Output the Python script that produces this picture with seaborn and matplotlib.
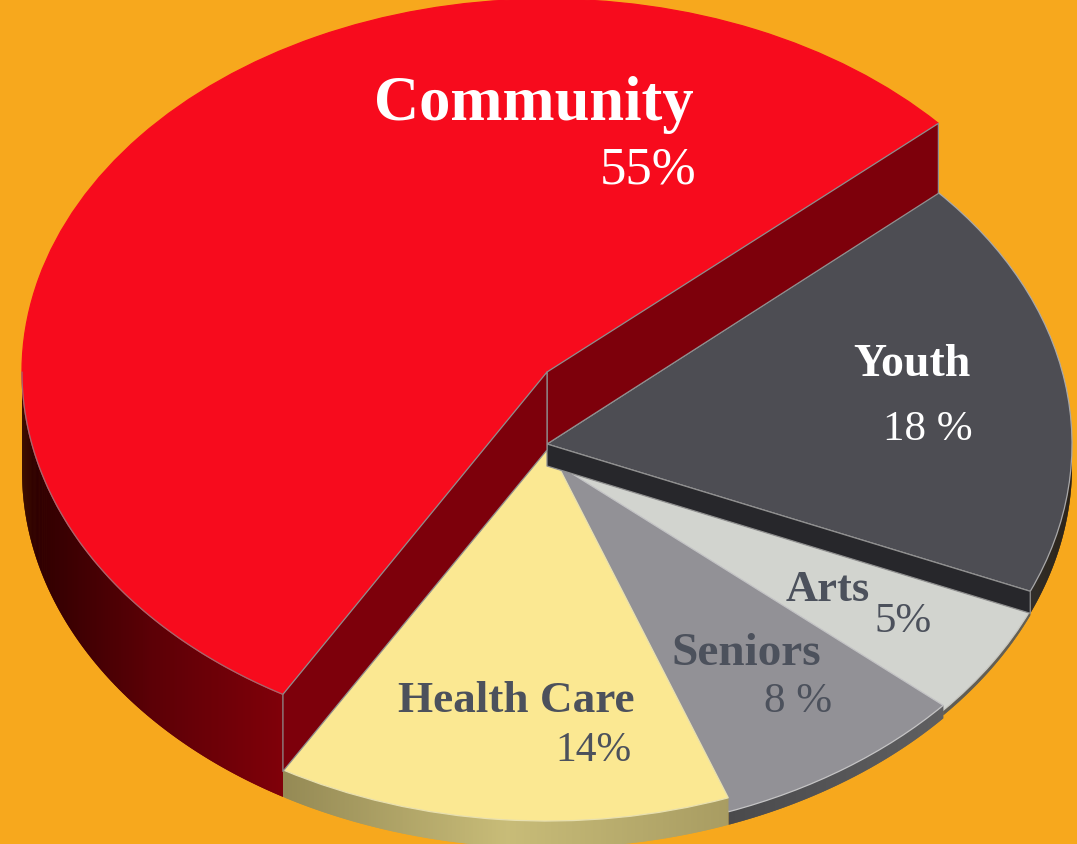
import numpy as np
import matplotlib
matplotlib.use("Agg")
import matplotlib.pyplot as plt
from matplotlib.colors import LinearSegmentedColormap
from matplotlib.transforms import Affine2D
import seaborn as sns

# ---- data ----
categories = ["Community", "Health Care", "Seniors", "Arts", "Youth"]
shares = [55, 14, 8, 5, 18]
share_labels = ["55%", "14%", "8 %", "5%", "18 %"]
start_angle = 41.8

# ---- style / layout (pixels of the 1077x845 canvas) ----
W, H = 1077, 845
CX, CY, RX, RY = 547, 445, 525, 377
lift = [-72, 0, 14, 19, 0]             # vertical shift of each slice's top face
ry_px = [373, 377, 377, 377, 377]      # vertical radius of each slice
floor = [27, 27, 27, 24, 22]           # rim floor, below the reference plane
top_cols = ["#f70b1d", "#fbe892", "#929196", "#d2d4cf", "#4d4d53"]
edge_cols = ["#f70b1d", "#e8e0b0", "#c4c4c6", "#c8c8c4", "#a8a8aa"]
wall_cols = [["#2a0000", "#5c0006", "#800009"],
             ["#958a55", "#c8bc78", "#a89c62"],
             ["#4a4a4c", "#5f5f61"],
             ["#5c5c58", "#5c5c58"],
             ["#29292c", "#161618"]]
text_dark = "#4c515c"
label_pos = [(694, 120, "white", 45), (635, 712, text_dark, 32.6), (821, 665, text_dark, 34),
             (870, 601, text_dark, 32), (971, 376, "white", 33)]
value_pos = [(696, 184, "white", 38), (632, 761, text_dark, 30), (832, 712, text_dark, 31),
             (932, 632, text_dark, 31), (973, 440, "white", 31)]
order_z = {"Arts": 2, "Seniors": 3, "Health Care": 4, "Youth": 5, "Community": 6}

sns.set_theme(style="white")
plt.rcParams["font.family"] = ["Liberation Serif", "DejaVu Serif"]
bg = "#f7a81d"

fig = plt.figure(figsize=(W / 100, H / 100), dpi=100, facecolor=bg)
ax = fig.add_axes([0, 0, 1, 1], facecolor=bg)

wedges, _ = ax.pie(shares, startangle=start_angle, counterclock=True, colors=top_cols,
                   wedgeprops=dict(linewidth=0.9))
ax.set_aspect("auto")
ax.set_xlim((0 - CX) / RX, (W - CX) / RX)
ax.set_ylim((CY - H) / RY, (CY - 0) / RY)
ax.set_axis_off()


def ux(px):
    return (px - CX) / RX


def uy(py):
    return (CY - py) / RY


def wall(t1, t2, dy, k, flr, cols, z):
    """Outer rim of a slice, one overlapping strip per small angle step."""
    t1, t2 = max(t1, 180), min(t2, 360)
    if t2 <= t1:
        return
    cmap = LinearSegmentedColormap.from_list("w", cols)
    th = np.radians(np.linspace(t1, t2, 241))
    x0, x1 = np.cos(th[0]), np.cos(th[-1])
    for i in range(len(th) - 1):
        a = th[i:i + 3]
        x = np.cos(a)
        ax.fill(np.r_[x, x[::-1]],
                np.r_[k * np.sin(a) - dy / RY, np.sin(a[::-1]) - flr / RY],
                color=cmap((x[0] - x0) / (x1 - x0)), lw=0, zorder=z)


def cut_face(theta, dy, k, inner_depth, rim_depth, z, col):
    """Vertical cut from the centre to the rim at angle theta."""
    t = np.radians(theta)
    x, y = np.cos(t), k * np.sin(t)
    d0 = dy / RY
    ax.fill([0, x, x, 0],
            [-d0, y - d0, y - d0 - rim_depth / RY, -d0 - inner_depth / RY],
            facecolor=col, edgecolor="#8f8f8f", lw=0.9, zorder=z, joinstyle="round")


for w, name, dy, ry, flr, cols, ec in zip(wedges, categories, lift, ry_px, floor, wall_cols, edge_cols):
    z = order_z[name]
    k = ry / RY
    w.set_transform(Affine2D().scale(1, k).translate(0, -dy / RY) + ax.transData)
    w.set_zorder(z + 0.5)
    w.set_edgecolor(ec)
    wall(w.theta1, w.theta2, dy, k, flr, cols, z)

comm, youth = wedges[0], wedges[4]
k0 = ry_px[0] / RY
cut_face(comm.theta1, lift[0], k0, 72, 70, order_z["Community"] + 0.6, "#7d000b")
cut_face(comm.theta2, lift[0], k0, 78, 77, order_z["Community"] + 0.6, "#7d000b")
cut_face(youth.theta1, 0, 1, 22, 22, order_z["Youth"] + 0.6, "#27272b")

# thin light line along the visible front edge of the community top
arc = np.radians(np.linspace(180, comm.theta2, 80))
ax.plot(np.cos(arc), k0 * np.sin(arc) - lift[0] / RY, color="#a06a70", lw=0.9,
        zorder=order_z["Community"] + 0.7)

for (x, y, c, s), name in zip(label_pos, categories):
    ax.text(ux(x), uy(y), name, ha="right", va="baseline", color=c, fontsize=s,
            fontweight="bold", zorder=10)
for (x, y, c, s), lab in zip(value_pos, share_labels):
    ax.text(ux(x), uy(y), lab, ha="right", va="baseline", color=c, fontsize=s, zorder=10)

fig.savefig("out.png", dpi=100, facecolor=bg)
